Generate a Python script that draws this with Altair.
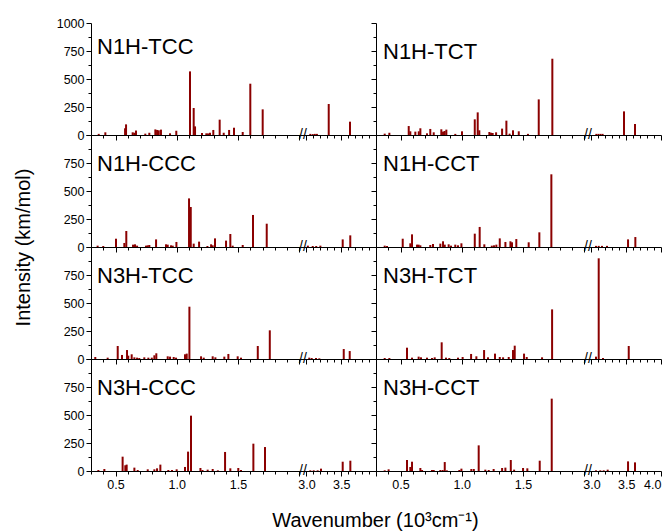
import altair as alt
import pandas as pd

FONT = "Liberation Sans"
RED = "#8b0000"
W, H = 285, 112

names = ["N1H-TCC", "N1H-TCT", "N1H-CCC", "N1H-CCT",
         "N3H-TCC", "N3H-TCT", "N3H-CCC", "N3H-CCT"]

# wavenumbers (10^3 cm^-1) and IR intensities (km/mol)
wn_1 = [0.363, 0.417, 0.578, 0.586, 0.640, 0.653, 0.667, 0.743, 0.776, 0.825, 0.839, 0.853, 0.871, 0.945, 0.996,
        1.108, 1.138, 1.149, 1.206, 1.241, 1.255, 1.271, 1.298, 1.350, 1.383, 1.427, 1.467, 1.538, 1.600, 1.701,
        3.055, 3.09, 3.12, 3.15, 3.32, 3.626]
in_1 = [10, 24, 60, 95, 24, 20, 40, 12, 20, 50, 45, 42, 48, 15, 38,
        568, 241, 77, 18, 15, 14, 20, 45, 137, 20, 45, 65, 27, 458, 229,
        10, 8, 10, 10, 277, 119]

wn_2 = [0.371, 0.409, 0.567, 0.580, 0.621, 0.649, 0.662, 0.716, 0.743, 0.771, 0.833, 0.847, 0.860, 0.874, 0.947,
        1.002, 1.106, 1.130, 1.143, 1.225, 1.239, 1.252, 1.280, 1.329, 1.364, 1.390, 1.418, 1.465, 1.540, 1.628,
        1.739, 3.07, 3.10, 3.13, 3.16, 3.468, 3.626]
in_2 = [12, 20, 80, 33, 30, 33, 60, 15, 54, 24, 51, 30, 36, 48, 10,
        33, 140, 202, 42, 27, 20, 18, 24, 57, 128, 12, 42, 33, 10, 318,
        681, 10, 10, 10, 10, 211, 98]

wn_3 = [0.354, 0.400, 0.504, 0.572, 0.588, 0.643, 0.659, 0.676, 0.749, 0.763, 0.776, 0.831, 0.912, 0.926, 0.953,
        0.967, 0.997, 1.100, 1.114, 1.138, 1.182, 1.250, 1.280, 1.293, 1.312, 1.402, 1.437, 1.456, 1.538, 1.622,
        1.734, 3.02, 3.09, 3.14, 3.20, 3.521, 3.630]
in_3 = [12, 9, 74, 36, 143, 21, 24, 12, 12, 15, 18, 68, 24, 21, 15,
        12, 45, 434, 357, 30, 48, 9, 24, 15, 77, 57, 116, 12, 18, 286,
        208, 12, 9, 9, 12, 68, 104]

wn_4 = [0.371, 0.390, 0.518, 0.580, 0.594, 0.635, 0.648, 0.662, 0.743, 0.765, 0.825, 0.847, 0.861, 0.893, 0.912,
        0.947, 0.969, 0.997, 1.106, 1.146, 1.184, 1.245, 1.263, 1.282, 1.310, 1.356, 1.397, 1.410, 1.445, 1.546,
        1.633, 1.731, 3.065, 3.104, 3.151, 3.223, 3.526, 3.631]
in_4 = [12, 9, 74, 33, 113, 21, 21, 15, 18, 27, 30, 51, 21, 24, 12,
        21, 15, 33, 119, 179, 24, 12, 15, 21, 77, 45, 51, 42, 71, 42,
        131, 649, 10, 10, 10, 10, 68, 89]

wn_5 = [0.335, 0.436, 0.518, 0.553, 0.594, 0.604, 0.632, 0.654, 0.676, 0.694, 0.735, 0.768, 0.796, 0.817, 0.833,
        0.926, 0.945, 0.975, 0.994, 1.067, 1.081, 1.103, 1.198, 1.220, 1.293, 1.315, 1.388, 1.421, 1.497, 1.524,
        1.661, 1.759, 3.04, 3.075, 3.137, 3.185, 3.536, 3.622]
in_5 = [18, 12, 116, 36, 80, 30, 42, 15, 12, 9, 15, 12, 12, 33, 51,
        24, 21, 18, 12, 42, 48, 467, 24, 12, 24, 15, 21, 45, 24, 12,
        116, 256, 12, 9, 9, 6, 89, 71]

wn_6 = [0.371, 0.409, 0.553, 0.594, 0.648, 0.667, 0.716, 0.757, 0.779, 0.836, 0.871, 0.898, 0.969, 1.007, 1.076,
        1.119, 1.182, 1.214, 1.271, 1.310, 1.337, 1.383, 1.418, 1.432, 1.508, 1.530, 1.655, 1.737,
        3.065, 3.104, 3.166, 3.536]
in_6 = [9, 9, 101, 12, 21, 15, 12, 9, 15, 149, 12, 9, 12, 18, 45,
        24, 80, 15, 48, 18, 15, 18, 80, 119, 48, 18, 15, 443,
        21, 899, 9, 116]

wn_7 = [0.360, 0.409, 0.558, 0.580, 0.591, 0.654, 0.681, 0.763, 0.817, 0.839, 0.866, 0.931, 0.961, 0.999, 1.067,
        1.092, 1.116, 1.193, 1.210, 1.252, 1.293, 1.335, 1.394, 1.437, 1.502, 1.524, 1.625, 1.720,
        3.055, 3.104, 3.161, 3.209, 3.521, 3.631]
in_7 = [9, 18, 128, 51, 57, 30, 9, 15, 15, 24, 57, 9, 9, 15, 36,
        173, 494, 27, 9, 12, 18, 6, 170, 24, 27, 9, 244, 214,
        6, 6, 6, 21, 83, 92]

wn_8 = [0.371, 0.403, 0.553, 0.580, 0.594, 0.662, 0.676, 0.757, 0.771, 0.825, 0.844, 0.861, 0.878, 0.980, 0.997,
        1.078, 1.098, 1.138, 1.192, 1.220, 1.260, 1.329, 1.356, 1.400, 1.427, 1.500, 1.535, 1.636, 1.734,
        3.065, 3.127, 3.176, 3.233, 3.526, 3.626]
in_8 = [6, 15, 98, 36, 83, 27, 9, 9, 9, 9, 9, 80, 6, 9, 21,
        18, 18, 229, 12, 9, 18, 27, 30, 98, 12, 27, 24, 92, 646,
        6, 6, 6, 12, 86, 77]

WN = [wn_1, wn_2, wn_3, wn_4, wn_5, wn_6, wn_7, wn_8]
IN = [in_1, in_2, in_3, in_4, in_5, in_6, in_7, in_8]

# axis break
seg1 = [0.3, 2.03]
seg2 = [2.95, 4.0]
break_at = [2.03]

x_ticks = [round(0.3 + 0.1 * k, 1) for k in range(18)] + [round(3.0 + 0.1 * k, 1) for k in range(11)]
y_ticks = [125 * k for k in range(9)]

x_scale = alt.Scale(domain=seg1 + seg2, range=[0, 212, 212, W], nice=False, zero=False)
y_scale = alt.Scale(domain=[0, 1000], nice=False, zero=False)

x_major = "abs(datum.value*2 - round(datum.value*2)) < 0.001"
y_major = "datum.value % 250 === 0"


def panel(i):
    row, col = divmod(i, 2)
    left = col == 0
    bottom = row == 3
    df = pd.DataFrame({"wn": WN[i], "inten": IN[i]})
    df["base"] = 0

    xa = dict(values=x_ticks, tickSize={"condition": {"test": x_major, "value": 5}, "value": 3},
              labelFlush=False, labelOverlap=False, labelBound=False, title="")
    if bottom:
        lim = 3.95 if left else 4.05
        xa["labelExpr"] = (f"({x_major}) && (datum.value < 1.8 || datum.value > 2.9) && datum.value < {lim}"
                           " ? format(datum.value, '.1f') : ''")
        xa["labelAlign"] = {"condition": {"test": "datum.value > 3.95", "value": "right"}, "value": "center"}
    else:
        xa["labels"] = False
    if i == 6:
        xa["title"] = "Wavenumber (10³cm⁻¹)"
        xa["titleX"] = 284
        xa["titleY"] = 55
        xa["titleBaseline"] = "alphabetic"
        xa["titleAlign"] = "center"

    ya = dict(values=y_ticks, tickSize={"condition": {"test": y_major, "value": 5}, "value": 3},
              labelFlush=False, labelOverlap=False, labelBound=False, title="")
    if left:
        lim = 1001 if row == 0 else 999
        ya["labelExpr"] = f"({y_major}) && datum.value < {lim} ? format(datum.value, 'd') : ''"
    else:
        ya["labels"] = False
    if i == 2:
        ya["title"] = "Intensity (km/mol)"
        ya["titleX"] = -68
        ya["titleY"] = 112
        ya["titleBaseline"] = "middle"
        ya["titleAlign"] = "center"

    sticks = alt.Chart(df).mark_rule(color=RED, strokeWidth=2).encode(
        x=alt.X("wn:Q", scale=x_scale, axis=alt.Axis(**xa)),
        y=alt.Y("inten:Q", scale=y_scale, axis=alt.Axis(**ya)),
        y2="base:Q",
    )
    brk = alt.Chart(pd.DataFrame({"wn": break_at, "inten": [0]})).mark_text(
        text="//", fontSize=14, font=FONT, color="black", align="center", baseline="middle"
    ).encode(x=alt.X("wn:Q", scale=x_scale, axis=alt.Axis(**xa)),
             y=alt.Y("inten:Q", scale=y_scale, axis=alt.Axis(**ya)))

    lx = 6 if left else 7
    ly = 31 if i == 0 else 36
    lab = alt.Chart(pd.DataFrame({"label": [names[i]]})).mark_text(
        align="left", baseline="alphabetic", fontSize=22, font=FONT, color="black"
    ).encode(x=alt.value(lx), y=alt.value(ly), text="label:N")

    return alt.layer(sticks, brk, lab).properties(width=W, height=H)


chart = alt.concat(*[panel(i) for i in range(8)], columns=2, spacing=0, bounds="flush").properties(
    padding={"left": 4, "top": 8, "right": 0, "bottom": 0}
).resolve_scale(x="independent", y="independent").configure_view(
    stroke="transparent"
).configure_axis(
    domainColor="black", tickColor="black", labelColor="black", labelFont=FONT, labelFontSize=12.5,
    titleFont=FONT, titleFontSize=20, titleFontWeight="normal", titleColor="black", grid=False,
    domainWidth=1, tickWidth=1, labelOverlap=False, labelFlush=False
)

chart.save("out.html", embed_options={"renderer": "svg", "actions": False})
